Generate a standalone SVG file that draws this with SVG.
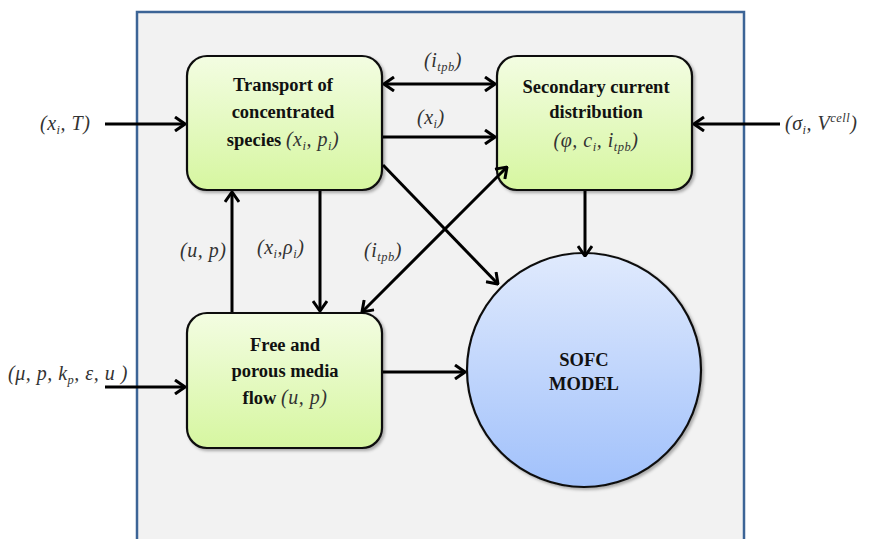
<svg xmlns="http://www.w3.org/2000/svg" width="876" height="539" viewBox="0 0 876 539">
<style>
.box{stroke:#111;stroke-width:2.2;fill:url(#gGreen)}
.t{font-family:"Liberation Serif",serif;font-weight:bold;font-size:18.5px;fill:#111;text-anchor:middle}
.m{font-family:"Liberation Serif",serif;font-style:italic;font-weight:normal;font-size:20px;fill:#333;letter-spacing:0.5px}
.s{font-size:12.5px;letter-spacing:0.5px}
.c{stroke:#000;stroke-width:3;fill:none}
</style>
<defs>
<linearGradient id="gGreen" x1="0" y1="0" x2="0" y2="1">
<stop offset="0" stop-color="#f3fde2"/>
<stop offset="1" stop-color="#d6f6a0"/>
</linearGradient>
<linearGradient id="gBlue" x1="0" y1="0" x2="0" y2="1">
<stop offset="0" stop-color="#e0eafd"/>
<stop offset="1" stop-color="#a1c1fb"/>
</linearGradient>
<filter id="sh" x="-10%" y="-10%" width="130%" height="130%">
<feDropShadow dx="2" dy="2" stdDeviation="1.5" flood-color="#000" flood-opacity="0.3"/>
</filter>
<marker id="ah" viewBox="0 0 12 16" refX="11" refY="8" markerWidth="12" markerHeight="16" markerUnits="userSpaceOnUse" orient="auto-start-reverse">
<path d="M1,1 L11,8 L1,15" fill="none" stroke="#000" stroke-width="3"/>
</marker>
</defs>
<rect x="0" y="0" width="876" height="539" fill="#fff"/>
<rect id="frame" x="137" y="12" width="607" height="540" fill="#f2f2f2" stroke="#3c6496" stroke-width="2.5"/>

<g id="transport">
<rect class="box" x="187" y="56" width="195" height="134" rx="20" filter="url(#sh)"/>
<text class="t" x="283" y="91">Transport of</text>
<text class="t" x="283" y="118">concentrated</text>
<text class="t" x="283" y="146">species <tspan class="m">(x</tspan><tspan class="m s" dy="4">i</tspan><tspan class="m" dy="-4">, p</tspan><tspan class="m s" dy="4">i</tspan><tspan class="m" dy="-4">)</tspan></text>
</g>

<g id="secondary">
<rect class="box" x="497" y="56" width="195" height="134" rx="20" filter="url(#sh)"/>
<text class="t" x="596" y="93">Secondary current</text>
<text class="t" x="596" y="118">distribution</text>
<text class="t" x="596" y="147"><tspan class="m">(φ, c</tspan><tspan class="m s" dy="4">i</tspan><tspan class="m" dy="-4">, i</tspan><tspan class="m s" dy="4">tpb</tspan><tspan class="m" dy="-4">)</tspan></text>
</g>

<g id="free">
<rect class="box" x="187" y="313" width="195" height="135" rx="20" filter="url(#sh)"/>
<text class="t" x="285" y="351">Free and</text>
<text class="t" x="285" y="377">porous media</text>
<text class="t" x="285" y="404">flow <tspan class="m">(u, p)</tspan></text>
</g>

<g id="sofc">
<circle cx="584" cy="370" r="117" fill="url(#gBlue)" stroke="#111" stroke-width="2.2" filter="url(#sh)"/>
<text class="t" x="584" y="366">SOFC</text>
<text class="t" x="584" y="390">MODEL</text>
</g>

<g id="connectors">
<line class="c" x1="105" y1="124" x2="185" y2="124" marker-end="url(#ah)"/>
<line class="c" x1="780" y1="124" x2="694" y2="124" marker-end="url(#ah)"/>
<line class="c" x1="384" y1="84" x2="495" y2="84" marker-start="url(#ah)" marker-end="url(#ah)"/>
<line class="c" x1="383" y1="137" x2="495" y2="137" marker-end="url(#ah)"/>
<line class="c" x1="320" y1="191" x2="320" y2="311" marker-end="url(#ah)"/>
<line class="c" x1="232" y1="312" x2="232" y2="192" marker-end="url(#ah)"/>
<line class="c" x1="383" y1="165" x2="498" y2="284" marker-end="url(#ah)"/>
<line class="c" x1="507" y1="167" x2="362" y2="312" marker-start="url(#ah)" marker-end="url(#ah)"/>
<line class="c" x1="585" y1="191" x2="585" y2="256" marker-end="url(#ah)"/>
<line class="c" x1="383" y1="372" x2="465" y2="372" marker-end="url(#ah)"/>
<line class="c" x1="105" y1="387" x2="185" y2="387" marker-end="url(#ah)"/>
</g>

<g id="labels">
<text class="m" x="40" y="130">(x<tspan class="s" dy="4">i</tspan><tspan dy="-4">, T)</tspan></text>
<text class="m" x="785" y="130">(σ<tspan class="s" dy="4">i</tspan><tspan dy="-4">, V</tspan><tspan class="s" dy="-8">cell</tspan><tspan dy="8">)</tspan></text>
<text class="m" x="424" y="67">(i<tspan class="s" dy="4">tpb</tspan><tspan dy="-4">)</tspan></text>
<text class="m" x="417" y="124">(x<tspan class="s" dy="4">i</tspan><tspan dy="-4">)</tspan></text>
<text class="m" x="180" y="257">(u, p)</text>
<text class="m" x="257" y="254">(x<tspan class="s" dy="4">i</tspan><tspan dy="-4">,ρ</tspan><tspan class="s" dy="4">i</tspan><tspan dy="-4">)</tspan></text>
<text class="m" x="364" y="257">(i<tspan class="s" dy="4">tpb</tspan><tspan dy="-4">)</tspan></text>
<text class="m" x="8" y="380">(μ, p, k<tspan class="s" dy="4">p</tspan><tspan dy="-4">, ε, u )</tspan></text>
</g>
</svg>
